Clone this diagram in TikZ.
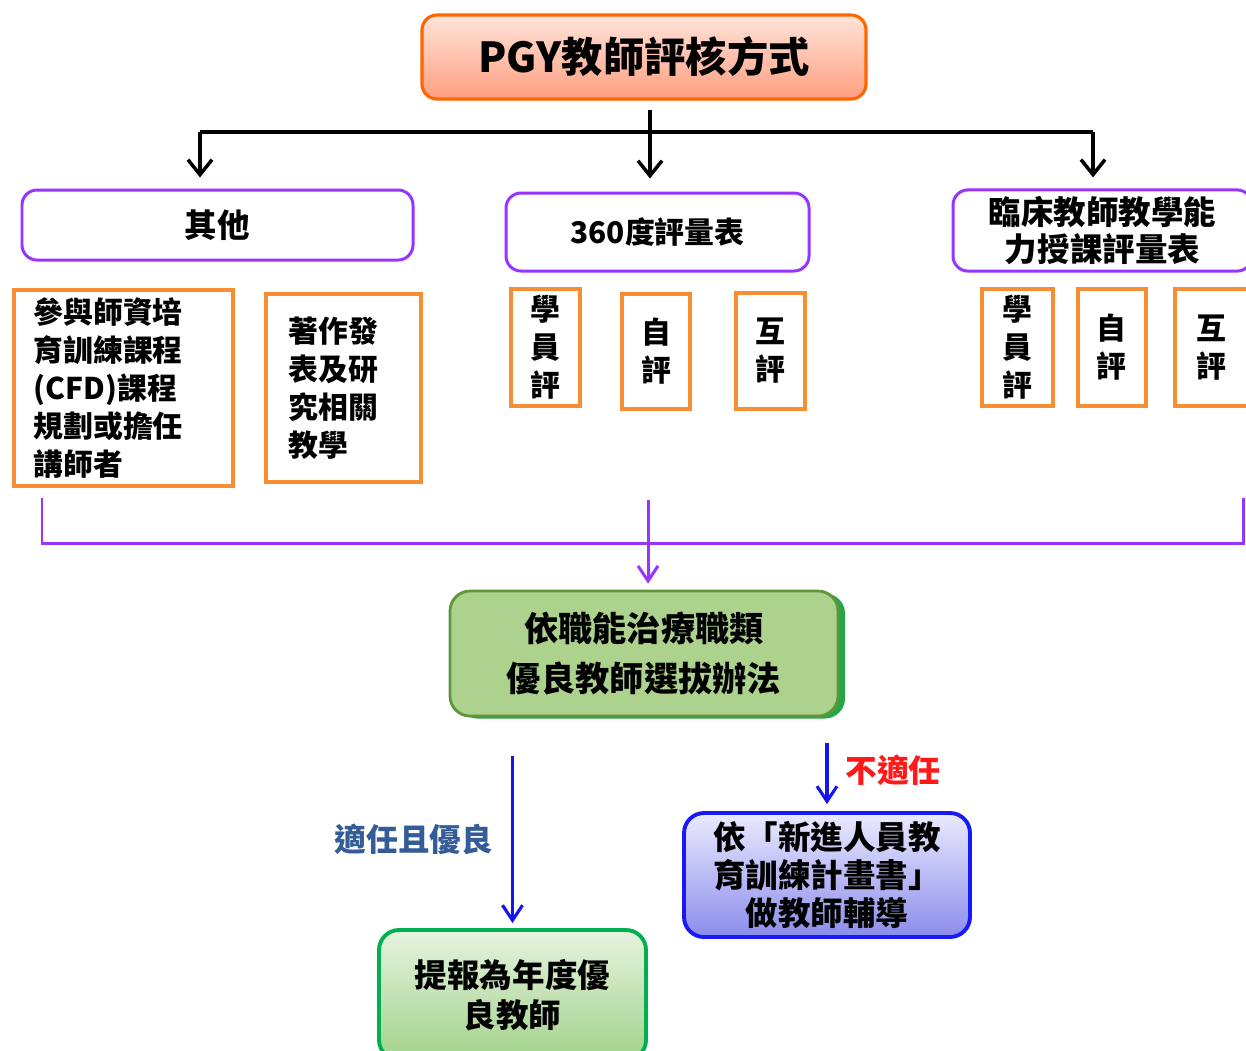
\documentclass[tikz,border=0pt]{standalone}
\usepackage{fontspec}
\setmainfont{Noto Sans CJK TC}
\usetikzlibrary{positioning}
\usetikzlibrary{arrows.meta,shadows}

\definecolor{headorange}{RGB}{255,102,0}
\definecolor{headtop}{RGB}{255,228,218}
\definecolor{headbot}{RGB}{255,158,128}
\definecolor{catviolet}{RGB}{153,51,255}
\definecolor{itemorange}{RGB}{247,142,52}
\definecolor{lawedge}{RGB}{94,150,58}
\definecolor{lawlight}{RGB}{172,210,142}
\definecolor{lawmid}{RGB}{115,172,72}
\definecolor{lawshadow}{RGB}{40,165,72}
\definecolor{arrblue}{RGB}{20,20,240}
\definecolor{advedge}{RGB}{25,25,245}
\definecolor{advtop}{RGB}{234,234,255}
\definecolor{advbot}{RGB}{140,140,236}
\definecolor{recedge}{RGB}{0,176,80}
\definecolor{rectop}{RGB}{230,243,222}
\definecolor{recbot}{RGB}{162,210,140}
\definecolor{okblue}{RGB}{52,92,150}
\definecolor{failred}{RGB}{255,25,25}

\begin{document}
\begin{tikzpicture}[
  headbox/.style={draw=headorange, line width=1.8pt, rounded corners=0.3cm, top color=headtop, bottom color=headbot, minimum width=8.88cm, minimum height=1.68cm, font=\fontsize{23.5}{27}\selectfont\bfseries},
  catbox/.style={draw=catviolet, line width=1.7pt, rounded corners=0.3cm, fill=white, align=center, font=\fontsize{18.5}{21.6}\selectfont\bfseries},
  itembox/.style={draw=itemorange, line width=2.2pt, fill=white, align=center, font=\fontsize{17}{21.6}\selectfont\bfseries},
  lawbox/.style={draw=lawedge, line width=1.6pt, rounded corners=0.4cm, top color=lawlight, middle color=lawmid, bottom color=lawlight, drop shadow={shadow xshift=0.14cm, shadow yshift=-0.05cm, fill=lawshadow, opacity=1}, align=center, minimum width=7.76cm, minimum height=2.5cm, font=\fontsize{19.5}{28}\selectfont\bfseries},
  advbox/.style={draw=advedge, line width=2.2pt, rounded corners=0.4cm, top color=advtop, bottom color=advbot, align=center, minimum width=5.72cm, minimum height=2.48cm, font=\fontsize{18.5}{21.6}\selectfont\bfseries},
  recbox/.style={draw=recedge, line width=2.2pt, rounded corners=0.4cm, top color=rectop, bottom color=recbot, align=center, minimum width=5.34cm, minimum height=2.6cm, font=\fontsize{18.5}{22.8}\selectfont\bfseries},
  blkline/.style={line width=2pt, black},
  blkarrow/.style={line width=2pt, black, -{Straight Barb[length=0.3cm,width=0.48cm]}, shorten >=0.22cm},
  vline/.style={line width=1.7pt, catviolet},
  varrow/.style={line width=1.7pt, catviolet, -{Straight Barb[length=0.3cm,width=0.4cm]}, shorten >=0.12cm},
  bluearrow/.style={line width=1.8pt, arrblue, -{Straight Barb[length=0.3cm,width=0.4cm]}},
  oklabel/.style={inner sep=0pt, text=okblue, font=\fontsize{18}{20}\selectfont\bfseries},
  faillabel/.style={inner sep=0pt, text=failred, font=\fontsize{18}{20}\selectfont\bfseries}
]
\useasboundingbox (0,0) rectangle (24.92,-21);
\clip (0,0) rectangle (24.92,-21);

  \node[headbox] (head) at (12.88,-1.14) {PGY教師評核方式};

  \node[catbox, minimum width=7.82cm, minimum height=1.4cm] (other) at (4.35,-4.5) {其他};
  \node[catbox, minimum width=6.06cm, minimum height=1.56cm, font=\fontsize{17}{21.6}\selectfont\bfseries] (s360) at (13.15,-4.64) {360度評量表};
  \node[catbox, minimum width=5.98cm, minimum height=1.62cm] (clin) at (22.05,-4.61) {臨床教師教學能\\力授課評量表};

  \node[itembox, align=left, text width=3.6cm, minimum width=4.38cm, minimum height=3.92cm] (train) at (2.47,-7.76) {參與師資培\\育訓練課程\\(CFD)課程\\規劃或擔任\\講師者};
  \node[itembox, align=left, text width=2.2cm, minimum width=3.1cm, minimum height=3.76cm, right=0.58cm of train] (pub) {著作發\\表及研\\究相關\\教學};

  \node[itembox, minimum width=1.38cm, minimum height=2.34cm] (stuA) at (10.91,-6.95) {學\\員\\評};
  \node[itembox, minimum width=1.36cm, minimum height=2.3cm] (selfA) at (13.12,-7.03) {自\\評};
  \node[itembox, minimum width=1.38cm, minimum height=2.32cm] (peerA) at (15.41,-7.02) {互\\評};

  \node[itembox, minimum width=1.42cm, minimum height=2.34cm] (stuB) at (20.35,-6.95) {學\\員\\評};
  \node[itembox, minimum width=1.36cm, minimum height=2.34cm, right=0.42cm of stuB] (selfB) {自\\評};
  \node[itembox, minimum width=1.48cm, minimum height=2.34cm, right=0.5cm of selfB] (peerB) {互\\評};

  \node[lawbox] (law) at (12.88,-13.07) {\rule{0pt}{16pt}依職能治療職類\\優良教師選拔辦法};
  \node[advbox] (adv) at (16.54,-17.5) {依「新進人員教\\育訓練計畫書」\\做教師輔導};
  \node[recbox] (rec) at (10.25,-19.9) {提報為年度優\\良教師};

  % branch under the title
  \coordinate (brL) at (4.0,-2.64);
  \coordinate (brM) at (13.0,-2.64);
  \coordinate (brR) at (21.86,-2.64);
  \draw[blkline] (brL) -- (brR);
  \draw[blkarrow, shorten <=0.18cm, shorten >=0.26cm] (head.south -| brM) -- (brM |- s360.north);
  \path[blkarrow] (brL) edge (brL |- other.north);
  \path[blkarrow] (brR) edge (brR |- clin.north);

  % bracket over all items
  \coordinate (gl) at (0.84,-9.96);
  \coordinate (gr) at (24.86,-9.96);
  \coordinate (gb) at (0,-10.86);
  \coordinate (gm) at (12.96,-10.0);
  \draw[vline] (gl) |- (gr |- gb) -- (gr);
  \draw[varrow] (gm) -- (gm |- law.north);

  \draw[bluearrow, shorten <=0.78cm, shorten >=0.1cm] (law.south -| rec.north) -- node[oklabel, pos=0.58, left=0.36cm] {適任且優良} (rec.north);
  \draw[bluearrow, shorten <=0.52cm, shorten >=0.14cm] (law.south -| adv.north) -- node[faillabel, pos=0.56, right=0.34cm] {不適任} (adv.north);
\end{tikzpicture}
\end{document}
